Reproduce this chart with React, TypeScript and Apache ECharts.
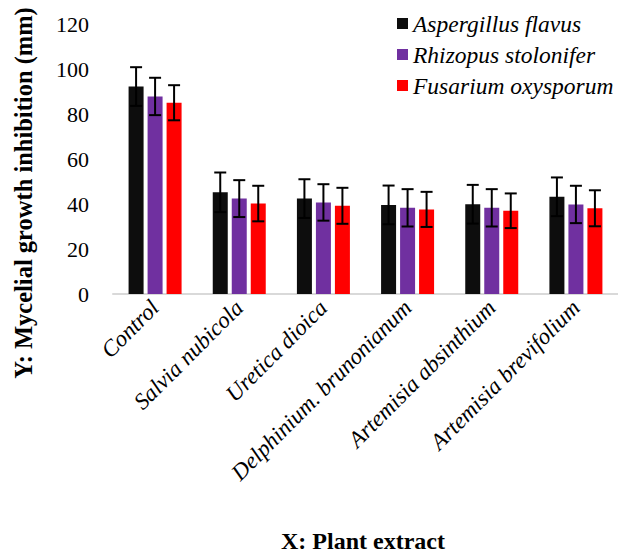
import React, { useEffect, useRef } from "react";
import * as echarts from "echarts";

const categories = [
  "Control",
  "Salvia nubicola",
  "Uretica dioica",
  "Delphinium. brunonianum",
  "Artemisia absinthium",
  "Artemisia brevifolium",
];
const seriesNames = ["Aspergillus flavus", "Rhizopus stolonifer", "Fusarium oxysporum"];
const aspergillus = [92.2, 45.2, 42.4, 39.6, 39.9, 43.2];
const rhizopus = [87.8, 42.4, 40.7, 38.3, 38.3, 39.8];
const fusarium = [85.0, 40.2, 39.2, 37.6, 37.0, 38.1];
const errAspergillus = [8.6, 8.8, 8.6, 8.6, 8.6, 8.6];
const errRhizopus = [8.3, 8.2, 8.1, 8.3, 8.3, 8.3];
const errFusarium = [7.8, 7.9, 8.0, 7.8, 7.7, 8.0];
const yTicks = { min: 0, max: 120, interval: 20 };

const colors = ["#0d0d0d", "#7030a0", "#ff0000"];
const FONT = "Liberation Serif";
const BAR_W = 15;
const BAR_GAP = 4;

export default function App() {
  const ref = useRef<HTMLDivElement>(null);
  useEffect(() => {
    if (!ref.current) return;
    document.body.style.margin = "0";
    const chart = echarts.init(ref.current, null, { renderer: "svg" });
    const values = [aspergillus, rhizopus, fusarium];
    const errs = [errAspergillus, errRhizopus, errFusarium];

    const barSeries = values.map((vals, si) => ({
      name: seriesNames[si],
      type: "bar",
      data: vals,
      barWidth: BAR_W,
      barGap: (BAR_GAP / BAR_W) * 100 + "%",
      itemStyle: { color: colors[si] },
      z: 2,
    }));

    const errSeries = values.map((vals, si) => {
      const offset = (si - 1) * (BAR_W + BAR_GAP);
      return {
        type: "custom",
        z: 3,
        data: vals.map((v, i) => [i, v, errs[si][i]]),
        renderItem: (params: any, api: any) => {
          const ci = api.value(0);
          const m = api.value(1);
          const e = api.value(2);
          const top = api.coord([ci, m + e]);
          const bot = api.coord([ci, m - e]);
          const x = top[0] + offset;
          const cap = 6;
          const style = { stroke: "#000", lineWidth: 2 };
          return {
            type: "group",
            children: [
              { type: "line", shape: { x1: x, y1: top[1], x2: x, y2: bot[1] }, style },
              { type: "line", shape: { x1: x - cap, y1: top[1], x2: x + cap, y2: top[1] }, style },
              { type: "line", shape: { x1: x - cap, y1: bot[1], x2: x + cap, y2: bot[1] }, style },
            ],
          };
        },
      };
    });

    chart.setOption({
      animation: false,
      backgroundColor: "#ffffff",
      grid: { left: 113, right: -9, top: 24, bottom: 260 },
      legend: {
        data: seriesNames,
        orient: "vertical",
        left: 397,
        top: 12,
        padding: 0,
        itemWidth: 11,
        itemHeight: 11,
        itemGap: 8,
        itemTextGap: 5,
        icon: "rect",
        textStyle: {
          fontFamily: FONT,
          fontStyle: "italic",
          fontWeight: "normal",
          fontSize: 23.5,
          color: "#000",
          lineHeight: 23,
        },
      },
      xAxis: {
        type: "category",
        data: categories,
        axisLine: { lineStyle: { color: "#d9d9d9", width: 2 } },
        axisTick: { show: false },
        axisLabel: {
          rotate: 45,
          interval: 0,
          margin: 10,
          fontFamily: FONT,
          fontStyle: "italic",
          fontWeight: "normal",
          fontSize: 23,
          color: "#000",
        },
      },
      yAxis: {
        type: "value",
        min: yTicks.min,
        max: yTicks.max,
        interval: yTicks.interval,
        axisLine: { show: false },
        axisTick: { show: false },
        splitLine: { show: false },
        axisLabel: { margin: 24, fontFamily: FONT, fontWeight: "normal", fontSize: 22, color: "#000" },
      },
      graphic: [
        {
          type: "text",
          x: 23,
          y: 193,
          rotation: Math.PI / 2,
          style: {
            text: "Y: Mycelial growth inhibition (mm)",
            fontFamily: FONT,
            fontWeight: "bold",
            fontSize: 24.5,
            fill: "#000",
            align: "center",
            verticalAlign: "middle",
          },
        },
        {
          type: "text",
          x: 363,
          y: 541,
          style: {
            text: "X: Plant extract",
            fontFamily: FONT,
            fontWeight: "bold",
            fontSize: 24,
            fill: "#000",
            align: "center",
            verticalAlign: "middle",
          },
        },
      ],
      series: [...barSeries, ...errSeries],
    });
    return () => chart.dispose();
  }, []);
  return <div ref={ref} style={{ width: 618, height: 554 }} />;
}
